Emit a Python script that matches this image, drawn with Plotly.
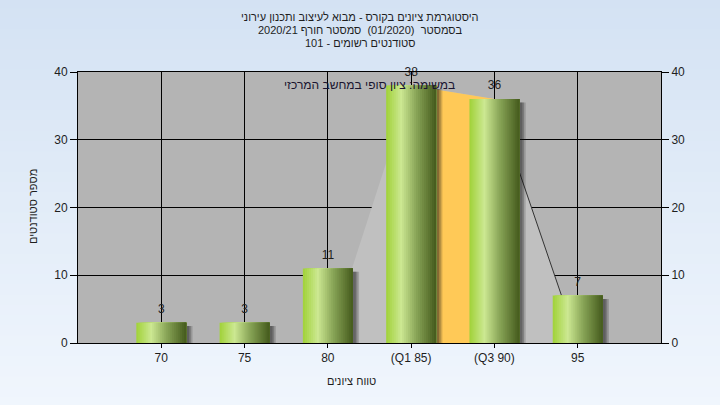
import plotly.graph_objects as go

# ---- data ----
categories = ['70', '75', '80', '(Q1 85)', '(Q3 90)', '95']
counts = [3, 3, 11, 38, 36, 7]
q1_index = 3
q3_index = 4
y_ticks = [0, 10, 20, 30, 40]

title_lines = [
    'היסטוגרמת ציונים בקורס - מבוא לעיצוב ותכנון עירוני',
    'בסמסטר  (01/2020)  סמסטר חורף 2020/21',
    'סטודנטים רשומים - 101',
]
note_text = 'במשימה: ציון סופי במחשב המרכזי'
x_title = 'טווח ציונים'
y_title = 'מספר סטודנטים'

RLE, PDF = '\u202b', '\u202c'
def rtl(s):
    return RLE + s + PDF

FONT = 'Liberation Sans'
TXT = '#1e1e1e'

# pixel geometry of plot area
L, R, T, B = 78, 661, 72, 343
W, H = 720, 405
pw, ph = R - L, B - T

def px_x(px):
    return (px - L) / pw

def px_y(py):
    return (B - py) / ph

xpos = list(range(len(categories)))

fig = go.Figure()

# distribution polygon (light grey) and Q1-Q3 band (yellow)
poly_x = [xpos[q1_index - 1], xpos[q1_index], xpos[q3_index], xpos[q3_index + 1]]
poly_y = [0, counts[q1_index], counts[q3_index], 0]
fig.add_trace(go.Scatter(x=poly_x, y=poly_y, fill='toself', mode='lines',
                         fillcolor='#c0c0c0', line=dict(width=0, color='#c0c0c0'),
                         hoverinfo='skip', showlegend=False))
band_x = [xpos[q1_index], xpos[q1_index], xpos[q3_index], xpos[q3_index]]
band_y = [0, counts[q1_index], counts[q3_index], 0]
fig.add_trace(go.Scatter(x=band_x, y=band_y, fill='toself', mode='lines',
                         fillcolor='#ffc957', line=dict(width=0, color='#ffc957'),
                         hoverinfo='skip', showlegend=False))
fig.add_trace(go.Scatter(x=[xpos[q3_index], xpos[q3_index + 1]],
                         y=[counts[q3_index], 0], mode='lines',
                         line=dict(color='#333333', width=1),
                         hoverinfo='skip', showlegend=False))

# shadows (overlay subplot)
bw = 0.6
for off, alpha in [(0.075, 0.18), (0.055, 0.22), (0.035, 0.25)]:
    fig.add_trace(go.Bar(x=xpos, y=[c - 0.5 for c in counts], width=bw,
                         offset=-bw / 2 + off,
                         marker=dict(color=f'rgba(20,20,20,{alpha})', line=dict(width=0)),
                         xaxis='x2', yaxis='y2', hoverinfo='skip', showlegend=False))

# gradient bars built from vertical strips
stops = [(0.0, (160, 210, 56)), (0.3, (204, 232, 146)), (0.6, (138, 166, 88)), (1.0, (68, 90, 28))]

def grad(t):
    for (t0, c0), (t1, c1) in zip(stops[:-1], stops[1:]):
        if t0 <= t <= t1:
            f = (t - t0) / (t1 - t0)
            return 'rgb(%d,%d,%d)' % tuple(round(a + (b - a) * f) for a, b in zip(c0, c1))
    return 'rgb(%d,%d,%d)' % stops[-1][1]

N = 25
sw = bw / N
for i in range(N):
    t = (i + 0.5) / N
    w_i = bw - i * sw
    fig.add_trace(go.Bar(x=xpos, y=counts, width=w_i, offset=-bw / 2 + i * sw,
                         marker=dict(color=grad(t), line=dict(width=0)),
                         xaxis='x2', yaxis='y2', hoverinfo='skip', showlegend=False))

# value labels
fig.add_trace(go.Scatter(x=xpos, y=counts, mode='markers+text', text=[str(c) for c in counts],
                         textposition='top center', marker=dict(size=9, opacity=0),
                         textfont=dict(family=FONT, size=12, color=TXT), cliponaxis=False,
                         xaxis='x2', yaxis='y2', hoverinfo='skip', showlegend=False))

# background gradient bands
shapes = []
top_c = (212, 226, 243)
bot_c = (240, 246, 253)
nb = 40
y_lo, y_hi = px_y(H + 2), px_y(-2)
for i in range(nb):
    f = i / (nb - 1)
    col = 'rgb(%d,%d,%d)' % tuple(round(b + (a - b) * f) for a, b in zip(top_c, bot_c))
    y0 = y_lo + (y_hi - y_lo) * i / nb
    y1 = y_lo + (y_hi - y_lo) * (i + 1) / nb + 0.003
    shapes.append(dict(type='rect', xref='paper', yref='paper', x0=px_x(-2), x1=px_x(W + 2),
                       y0=y0, y1=y1, fillcolor=col, line=dict(width=0), layer='below'))
shapes.append(dict(type='rect', xref='paper', yref='paper', x0=0, x1=1, y0=0, y1=1,
                   fillcolor='#b4b4b4', line=dict(width=0), layer='below'))

annotations = []
for line, py in zip(title_lines, [17, 30, 43]):
    annotations.append(dict(text=rtl(line), xref='paper', yref='paper', x=px_x(360), y=px_y(py),
                            xanchor='center', yanchor='middle', showarrow=False,
                            font=dict(family=FONT, size=11, color=TXT)))
annotations.append(dict(text=rtl(note_text), xref='paper', yref='paper', x=px_x(369), y=px_y(85),
                        xanchor='center', yanchor='middle', showarrow=False,
                        font=dict(family=FONT, size=12, color='#1a1430')))
annotations.append(dict(text=rtl(x_title), xref='paper', yref='paper', x=px_x(351), y=px_y(381),
                        xanchor='center', yanchor='middle', showarrow=False,
                        font=dict(family=FONT, size=11, color=TXT)))
annotations.append(dict(text=rtl(y_title), xref='paper', yref='paper', x=px_x(33), y=px_y(207),
                        xanchor='center', yanchor='middle', showarrow=False, textangle=-90,
                        font=dict(family=FONT, size=11, color=TXT)))

tickfont = dict(family=FONT, size=12, color=TXT)
fig.update_layout(
    width=W, height=H,
    margin=dict(l=L, r=W - R, t=T, b=H - B, pad=0),
    paper_bgcolor='#e4edf8', plot_bgcolor='rgba(0,0,0,0)',
    barmode='overlay', showlegend=False, hovermode=False,
    shapes=shapes, annotations=annotations,
    xaxis=dict(range=[-1, 6], tickvals=xpos, ticktext=categories, showgrid=True,
               gridcolor='black', gridwidth=1, showline=True, linecolor='black', linewidth=1,
               mirror=True, ticks='outside', ticklen=4, tickcolor='black', tickfont=tickfont,
               zeroline=False, fixedrange=True),
    yaxis=dict(range=[0, 40], tickvals=y_ticks, showgrid=True, gridcolor='black', gridwidth=1,
               showline=True, linecolor='black', linewidth=1, ticks='outside', ticklen=7,
               tickcolor='black', tickfont=tickfont, zeroline=False, fixedrange=True),
    xaxis2=dict(range=[-1, 6], overlaying='x', anchor='y2', visible=False, fixedrange=True),
    yaxis2=dict(range=[0, 40], tickvals=y_ticks, overlaying='y', side='right', anchor='x2',
                showgrid=False, showline=True, linecolor='black', linewidth=1, ticks='outside',
                ticklen=7, tickcolor='black', tickfont=tickfont, zeroline=False, fixedrange=True),
)

fig.write_html('out.html', config={'displayModeBar': False, 'staticPlot': True},
               post_script="document.body.style.margin='0';document.body.style.overflow='hidden';document.body.style.background='#e4edf8';")
